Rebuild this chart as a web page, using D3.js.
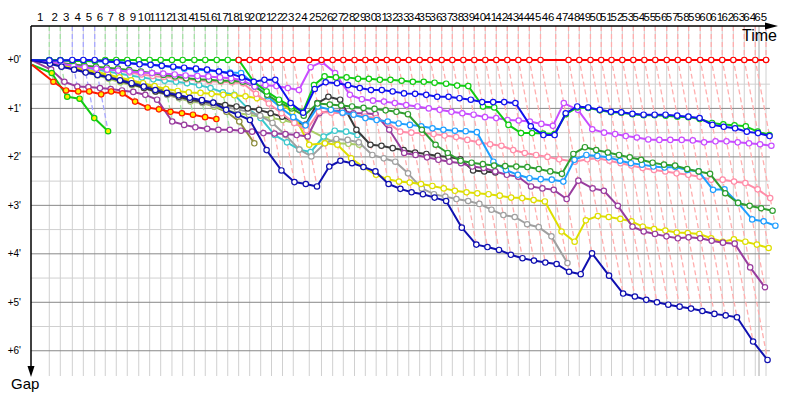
<!DOCTYPE html>
<html><head><meta charset="utf-8">
<script src="https://cdn.jsdelivr.net/npm/d3@7"></script>
<style>body{margin:0;background:#fff}svg{display:block}</style>
</head><body>
<svg id="c" width="800" height="400"></svg>
<script>
// leader's elapsed race time (minutes) at the end of each lap, index = lap
const lapEnd = [0,2.01,3.22,4.54,5.75,7.0,8.16,9.37,10.58,11.84,13.04,14.25,15.49,16.67,17.95,19.15,20.41,21.62,22.82,24.03,25.24,26.43,27.64,28.82,30.58,31.92,33.15,34.32,35.55,36.74,37.93,39.09,40.3,41.51,42.71,43.88,45.13,46.3,47.51,48.71,49.92,51.13,52.34,53.55,54.76,55.99,57.66,59.07,60.25,61.48,62.66,63.79,64.98,66.19,67.4,68.6,69.86,71.07,72.27,73.54,74.75,75.96,77.18,78.38,79.59,80.77];
const lapLabels = d3.range(1, 66).map(String);
const gapTicks = [0,1,2,3,4,5,6];
const raceEnd = 80; // time limit (minutes)
// who led each lap (index = lap)
const leaderByLap = [null,"lime","lime","blue","blue","blue","lime","lime","lime","lime","lime","lime","lime","lime","lime","lime","lime","lime",
  "red","red","red","red","red","red","red","red","red","red","red","red","red","red","red","red","red","red","red","red","red","red","red","red","red","red","red","red","red","red","red","red","red","red","red","red","red","red","red","red","red","red","red","red","red","red","red","red"];

// gap to the leader (minutes) when the car completes each lap, index = lap
const gapRed = [null,null,null,null,null,null,null,null,null,null,null,null,null,null,null,null,null,null,
  0,0,0,0,0,0,0,0,0,0,0,0,0,0,0,0,0,0,0,0,0,0,0,0,0,0,0,0,null,0,0,0,0,0,0,0,0,0,0,0,0,0,0,0,0,0,0,0];
const gapLime = [0,0,0,0.02,0.02,0.02,0,0,0,0, 0,0,0,0,0,0,0,0,0,0.45, 0.65,0.82,0.96,1.07,0.52,0.34,0.36,0.36,0.39,0.39, 0.41,0.41,0.43,0.45,0.45,0.47,0.49,0.53,0.54,0.96, 0.98,1.34,1.51,1.51,1.52,1.53,1.12,0.98,0.99,1.04, 1.08,1.09,1.12,1.14,1.14,1.15,1.17,1.18,1.22,1.3, 1.33,1.35,1.37,1.48,1.55];
const gapBlue = [0,0.01,0.01,0,0,0,0.03,0.05,0.07,0.09, 0.1,0.12,0.14,0.16,0.18,0.2,0.24,0.28,0.36,0.45, 0.41,0.41,0.89,1.09,0.6,0.46,0.48,0.52,0.58,0.62, 0.62,0.65,0.69,0.7,0.72,0.76,0.76,0.79,0.82,0.87, 0.87,0.87,0.89,1.37,1.55,1.55,1.1,0.96,0.98,1.03, 1.07,1.08,1.11,1.13,1.13,1.13,1.15,1.17,1.2,1.34, 1.38,1.41,1.48,1.51,1.57];
const gapViolet = [0,0.04,0.08,0.12,0.15,0.18,0.2,0.22,0.24,0.26, 0.27,0.28,0.3,0.32,0.33,0.34,0.36,0.38,0.42,0.55, 0.52,0.54,0.58,0.62,0.15,0.04,0.27,0.72,0.81,0.84, 0.86,0.89,0.93,0.96,1.0,1.03,1.07,1.1,1.13,1.18, 1.2,1.24,1.25,1.27,1.32,1.36,0.89,1.03,1.43,1.5, 1.53,1.57,1.6,1.64,1.65,1.65,1.65,1.66,1.7,1.68, 1.68,1.7,1.72,1.74,1.77];
const gapForest = [0,0.04,0.07,0.1,0.12,0.14,0.16,0.18,0.21,0.24, 0.27,0.31,0.34,0.38,0.4,0.41,0.43,0.43,0.45,0.55, 0.72,0.88,1.0,1.15,0.9,0.92,0.94,0.96,0.99,1.01, 1.04,1.07,1.12,1.44,1.75,1.92,2.08,2.12,2.15,2.18, 2.19,2.2,2.21,2.25,2.3,2.35,1.94,1.8,1.86,1.91, 1.96,2.01,2.06,2.12,2.16,2.18,2.25,2.3,2.35,2.75, 2.95,3.01,3.06,3.11];
const gapSky = [0,0,0.01,0.02,0.02,0.03,0.03,0.04,0.06,0.08, 0.1,0.12,0.15,0.18,0.2,0.22,0.24,0.26,0.27,0.5, 0.75,0.98,1.18,1.35,0.96,1.03,1.09,1.13,1.2,1.24, 1.27,1.31,1.34,1.37,1.41,1.44,1.46,1.47,1.49,2.1, 2.27,2.37,2.44,2.46,2.47,2.51,2.06,1.96,1.98,2.01, 2.08,2.13,2.16,2.2,2.22,2.21,2.27,2.3,2.68,2.67, 2.95,3.29,3.33,3.42];
const gapPink = [0,0.03,0.06,0.09,0.12,0.15,0.18,0.22,0.26,0.3, 0.33,0.35,0.37,0.4,0.42,0.44,0.45,0.46,0.48,0.7, 0.9,1.1,1.3,1.45,1.07,1.09,1.1,1.13,1.17,1.2, 1.3,1.48,1.5,1.51,1.53,1.56,1.59,1.65,1.7,1.74, 1.77,1.86,1.92,1.96,2.0,2.05,2.1,2.05,2.03,2.08, 2.13,2.18,2.23,2.27,2.3,2.34,2.37,2.41,2.47,2.47, 2.51,2.54,2.67,2.85];
const gapPurple = [0,0.2,0.45,0.55,0.56,0.58,0.6,0.63,0.66,0.72, 0.82,1.27,1.34,1.39,1.42,1.44,1.44,1.46,1.48,1.51, 1.52,1.53,1.55,1.58,1.1,1.05,1.05,1.1,1.1,1.12, 1.44,1.92,1.96,2.01,2.06,2.1,2.13,2.2,2.23,2.3, 2.37,2.41,2.61,2.65,2.68,2.87,2.49,2.65,2.7,3.01, 3.44,3.54,3.59,3.64,3.68,3.66,3.68,3.73,3.77,3.79, 4.28,4.69];
const gapYellow = [0,0.05,0.1,0.15,0.2,0.25,0.3,0.36,0.42,0.48, 0.54,0.6,0.64,0.67,0.68,0.7,0.72,0.73,0.75,0.79, 0.82,0.89,1.07,1.75,1.72,1.75,2.03,2.21,2.37,2.46, 2.51,2.53,2.56,2.6,2.65,2.7,2.73,2.75,2.77,2.8, 2.84,2.85,2.89,2.92,3.54,3.75,3.31,3.22,3.24,3.28, 3.33,3.44,3.49,3.52,3.56,3.57,3.59,3.68,3.75,3.7, 3.75,3.81,3.88];
const gapGrey = [0,0.07,0.13,0.2,0.25,0.3,0.35,0.42,0.5,0.58, 0.65,0.72,0.78,0.83,0.88,0.93,0.97,1.02,1.07,1.15, 1.3,1.55,1.85,1.99,1.72,1.63,1.65,1.7,1.96,2.03, 2.1,2.34,2.65,2.77,2.82,2.87,2.91,2.97,3.09,3.2, 3.24,3.39,3.45,3.64,4.19];
const gapDark = [0,0.06,0.12,0.18,0.24,0.3,0.36,0.43,0.5,0.58, 0.65,0.7,0.76,0.82,0.86,0.89,0.93,0.96,1.0,1.03, 1.1,1.17,1.27,1.34,0.89,0.76,0.82,1.44,1.75,1.77, 1.82,1.86,1.91,1.94,1.98,2.0,2.05,2.28,2.3,2.32];
const gapCyan = [0,0.04,0.08,0.12,0.16,0.2,0.24,0.28,0.32,0.36, 0.4,0.43,0.45,0.48,0.52,0.58,0.67,0.72,1.0,1.2, 1.55,1.7,1.85,1.9,1.58,1.46,1.48,1.55];
const gapLightGreen = [0,0.06,0.12,0.18,0.25,0.32,0.39,0.46,0.52,0.58, 0.65,0.72,0.79,0.86,0.89,0.96,1.03,1.1,1.13,1.17, 1.2,1.24,1.3,1.41,1.6,1.72,1.73,1.75];
const gapOlive = [0,0.06,0.12,0.18,0.23,0.28,0.33,0.39,0.45,0.52, 0.58,0.65,0.72,0.79,0.86,0.96,1.07,1.27,1.72];
const gapNavy = [0,0.08,0.14,0.2,0.26,0.31,0.36,0.42,0.48,0.55, 0.62,0.68,0.73,0.78,0.83,0.88,1.03,1.13,1.24,1.86, 2.28,2.52,2.56,2.61,2.2,2.08,2.13,2.21,2.3,2.56, 2.66,2.73,2.77,2.84,2.91,3.46,3.81,3.86,3.92,4.02, 4.09,4.14,4.18,4.21,4.37,4.42,3.99,4.45,4.82,4.88, 4.95,5.0,5.05,5.09,5.13,5.18,5.24,5.27,5.31,5.81, 6.19];
const gapRedYellow = [0.1,0.45,0.63,0.65,0.65,0.71,0.65,0.69,0.86,0.98,1.02,1.07,1.1,1.13,1.18,1.22];
const gapGreenYellow = [0.1,0.27,0.76,0.8,1.2,1.47];

// drawing order: first = bottom
const series = [
  {key:"olive", gaps:gapOlive, stroke:"#8c8c3c", fill:"#fff"},
  {key:"lightgreen", gaps:gapLightGreen, stroke:"#a8cc66", fill:"#fff"},
  {key:"cyan", gaps:gapCyan, stroke:"#3cc8cc", fill:"#fff"},
  {key:"grey", gaps:gapGrey, stroke:"#a0a0a0", fill:"#fff"},
  {key:"dark", gaps:gapDark, stroke:"#3a3a3a", fill:"#fff"},
  {key:"yellow", gaps:gapYellow, stroke:"#dede00", fill:"#fff"},
  {key:"purple", gaps:gapPurple, stroke:"#993d9e", fill:"#fff"},
  {key:"pink", gaps:gapPink, stroke:"#ff8ca8", fill:"#fff"},
  {key:"sky", gaps:gapSky, stroke:"#1e9eff", fill:"#fff"},
  {key:"forest", gaps:gapForest, stroke:"#2f9e2f", fill:"#fff"},
  {key:"violet", gaps:gapViolet, stroke:"#c84cff", fill:"#fff"},
  {key:"navy", gaps:gapNavy, stroke:"#1010b0", fill:"#fff"},
  {key:"greenyellow", gaps:gapGreenYellow, stroke:"#11cc11", fill:"#ffee00"},
  {key:"redyellow", gaps:gapRedYellow, stroke:"#ff1a00", fill:"#ffee00"},
  {key:"lime", gaps:gapLime, stroke:"#11cc11", fill:"#fff"},
  {key:"blue", gaps:gapBlue, stroke:"#1111ee", fill:"#fff"},
  {key:"red", gaps:gapRed, stroke:"#ff0000", fill:"#fff"}
];
const leaderDash = {lime:"#a6e2a6", blue:"#a8a8ff", red:"#ffaeae"};

const svg = d3.select("#c");
// x = race time (minutes): a car completes lap n at the leader's lap-n time plus its gap
const x = d3.scaleLinear().domain([0, 82]).range([31, 777.2]);
const y = d3.scaleLinear().domain([-0.7, 6.5]).range([26, 375]);
const FONT = "'Liberation Sans', Arial, sans-serif";
const px = (lap, gap) => x(lapEnd[lap] + gap);
const xRight = x(81.2);

// grid
const grid = svg.append("g");
d3.range(0.5, 6, 1).forEach(g => grid.append("line")
  .attr("x1", x(0)).attr("x2", xRight).attr("y1", y(g)).attr("y2", y(g))
  .attr("stroke", "#d0d0d0").attr("stroke-width", 1));
for (let n = 1; n < lapEnd.length; n++) {
  grid.append("line").attr("x1", x(lapEnd[n])).attr("x2", x(lapEnd[n]))
    .attr("y1", y(-0.7)).attr("y2", 376).attr("stroke", "#d0d0d0").attr("stroke-width", 1);
}
grid.append("line").attr("x1", x(raceEnd)).attr("x2", x(raceEnd))
  .attr("y1", y(-0.7)).attr("y2", 376).attr("stroke", "#a8a8a8").attr("stroke-width", 1);
gapTicks.forEach(g => grid.append("line")
  .attr("x1", x(0)).attr("x2", xRight).attr("y1", y(g)).attr("y2", y(g))
  .attr("stroke", "#888").attr("stroke-width", 1));

// lap lines: every car's completion of lap n lies on this line
const dash = svg.append("g");
for (let n = 1; n < lapEnd.length; n++) {
  let gmax = 0;
  series.forEach(s => { const v = s.gaps[n]; if (v != null && v > gmax) gmax = v; });
  const p = d3.path();
  p.moveTo(x(lapEnd[n]), y(-0.7)); p.lineTo(x(lapEnd[n]), y(0));
  if (gmax > 0) p.lineTo(px(n, gmax), y(gmax));
  dash.append("path").attr("d", p.toString()).attr("fill", "none")
    .attr("stroke", leaderDash[leaderByLap[n]]).attr("stroke-width", 1.3)
    .attr("stroke-dasharray", "5,3");
}

// series
const line = d3.line().x(d => px(d.lap, d.gap)).y(d => y(d.gap));
const sg = svg.append("g");
series.forEach(s => {
  const pts = s.gaps.map((g, i) => ({lap: i, gap: g})).filter(d => d.gap != null);
  const g = sg.append("g");
  g.append("path").attr("d", line(pts)).attr("fill", "none")
    .attr("stroke", s.stroke).attr("stroke-width", 2).attr("stroke-linejoin", "round");
  g.selectAll("circle").data(pts.filter(d => d.lap > 0)).join("circle")
    .attr("cx", d => px(d.lap, d.gap)).attr("cy", d => y(d.gap)).attr("r", 2.7)
    .attr("fill", s.fill).attr("stroke", s.stroke).attr("stroke-width", 1.2);
});

// axes
const ax = svg.append("g");
ax.append("line").attr("x1", 31).attr("x2", 770).attr("y1", 26).attr("y2", 26)
  .attr("stroke", "#000").attr("stroke-width", 1.5);
ax.append("path").attr("d", "M765,22.5L778,26L765,29.5Z").attr("fill", "#000");
ax.append("line").attr("x1", 31).attr("x2", 31).attr("y1", 26).attr("y2", 368)
  .attr("stroke", "#000").attr("stroke-width", 1.5);
ax.append("path").attr("d", "M27.5,366L31,377L34.5,366Z").attr("fill", "#000");

ax.selectAll("text.lap").data(lapLabels).join("text").attr("class", "lap")
  .attr("x", (d, i) => (x(lapEnd[i]) + x(lapEnd[i + 1])) / 2).attr("y", 21)
  .attr("text-anchor", "middle").attr("font-family", FONT).attr("font-size", 11.5)
  .attr("fill", "#000").text(d => d);
ax.selectAll("text.gap").data(gapTicks).join("text").attr("class", "gap")
  .attr("x", 21).attr("y", d => y(d) + 3.5).attr("text-anchor", "end")
  .attr("font-family", FONT).attr("font-size", 10).attr("fill", "#000")
  .text(d => "+" + d + "'");
ax.append("text").attr("x", 742).attr("y", 41).attr("font-family", FONT)
  .attr("font-size", 16).text("Time");
ax.append("text").attr("x", 11).attr("y", 389).attr("font-family", FONT)
  .attr("font-size", 15).text("Gap");
</script>
</body></html>
